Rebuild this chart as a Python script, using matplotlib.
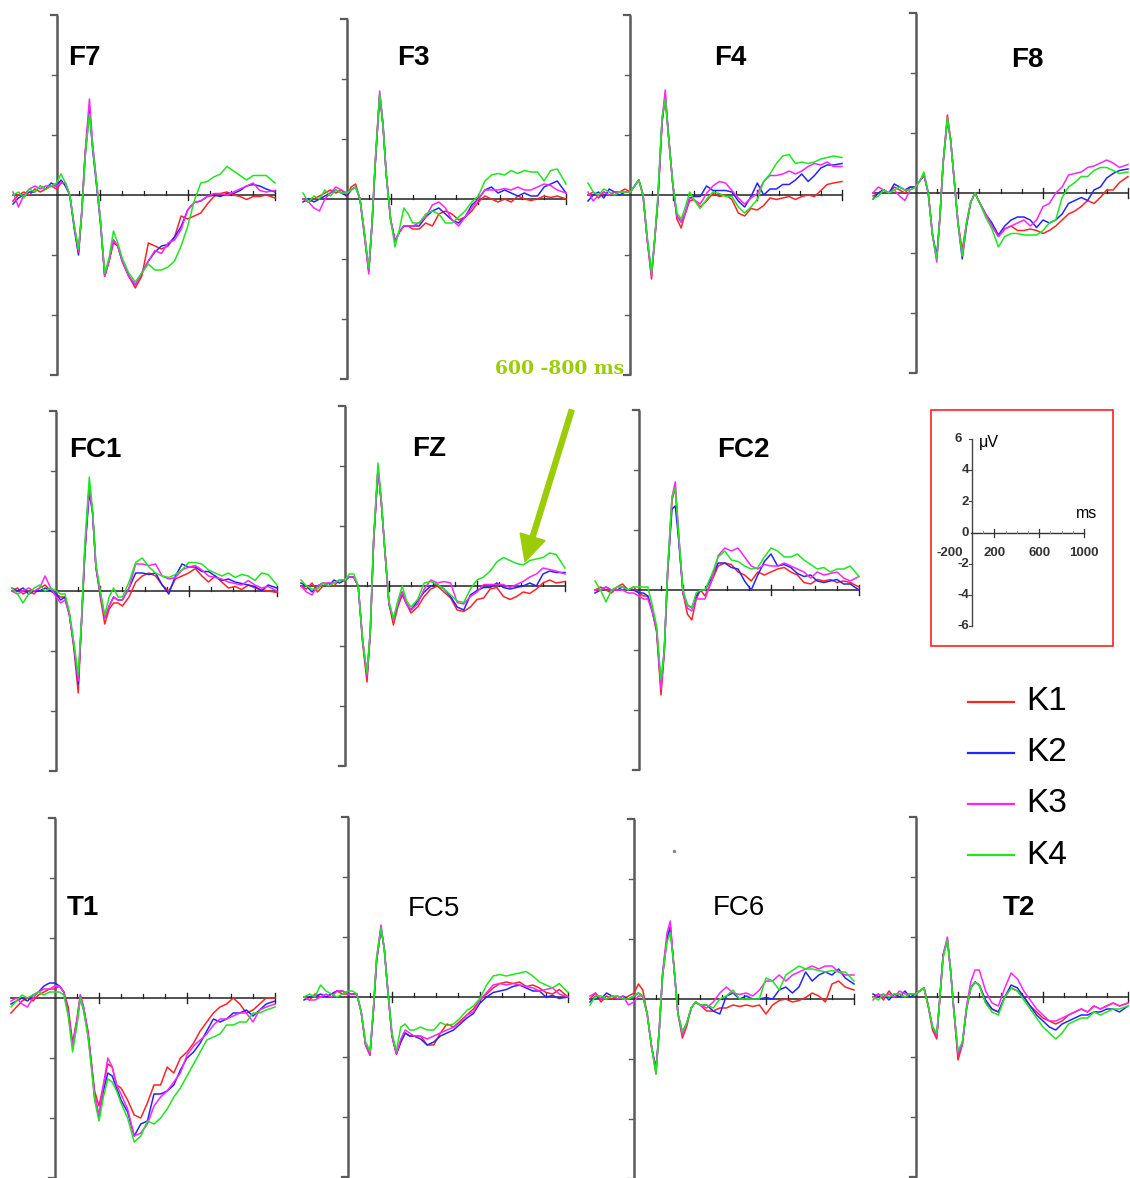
import matplotlib
matplotlib.use("Agg")
import matplotlib.pyplot as plt
from matplotlib.lines import Line2D
from matplotlib.patches import Rectangle, FancyArrow
from matplotlib.transforms import IdentityTransform

plt.rcParams['font.family'] = ['Liberation Sans', 'DejaVu Sans']

t_ms = [-200, -175, -150, -125, -100, -75, -50, -25,
        0, 20, 40, 60, 80, 100, 115, 130, 150, 165, 180, 200, 220, 240, 260, 280,
        300, 330, 360, 390, 420, 450, 480, 510, 540, 570, 600, 630, 660, 690,
        720, 750, 780, 810, 840, 870, 900, 930, 960, 1000]

conditions = ["K1", "K2", "K3", "K4"]
cond_colors = ["#ff2424", "#2424ff", "#ff24ff", "#1fe61f"]

# amplitudes in microvolts, one list per electrode and condition
F7_K1 = [-0.2, 0.0, 0.1, 0.0, 0.2, 0.1, 0.2, 0.3,
         0.2, 0.4, 0.4, 0.0, -1.0, -1.9, -0.6, 1.3, 2.9, 1.6, 0.6, -0.8, -2.7, -2.2, -1.6, -1.7,
         -2.2, -2.7, -3.1, -2.7, -1.6, -1.7, -1.8, -1.7, -1.4, -0.7, -0.8, -0.7, -0.6, -0.3, -0.05, 0.05, 0.1, 0.0, -0.05, -0.15, -0.05, -0.05, 0.0, -0.1]
F7_K2 = [-0.3, -0.1, 0.0, 0.1, 0.1, 0.3, 0.2, 0.4,
         0.3, 0.5, 0.3, 0.0, -1.1, -2.0, -0.6, 1.3, 2.8, 1.5, 0.5, -0.9, -2.7, -2.2, -1.5, -1.7,
         -2.2, -2.7, -3.0, -2.6, -2.2, -1.9, -1.7, -1.65, -1.4, -1.05, -0.5, -0.25, -0.2, -0.05, 0.0, -0.05, 0.05, 0.05, 0.15, 0.3, 0.35, 0.3, 0.2, 0.1]
F7_K3 = [0.1, -0.4, 0.0, 0.2, 0.3, 0.2, 0.3, 0.3,
         0.3, 0.4, 0.4, 0.0, -1.0, -1.9, -0.5, 1.4, 3.2, 1.7, 0.6, -0.8, -2.7, -2.2, -1.5, -1.7,
         -2.2, -2.7, -3.0, -2.6, -2.2, -1.85, -1.95, -1.6, -1.5, -1.15, -0.5, -0.25, -0.2, -0.05, 0.05, 0.05, 0.0, 0.1, 0.2, 0.3, 0.4, 0.15, 0.1, 0.15]
F7_K4 = [0.0, 0.1, -0.1, 0.2, 0.1, 0.3, 0.2, 0.3,
         0.4, 0.7, 0.4, 0.0, -1.0, -1.8, -0.6, 1.2, 2.7, 1.6, 0.6, -0.8, -2.6, -2.1, -1.2, -1.6,
         -2.1, -2.6, -2.9, -2.6, -2.3, -2.5, -2.5, -2.4, -2.2, -1.7, -1.05, -0.2, 0.4, 0.45, 0.6, 0.7, 0.95, 0.8, 0.65, 0.5, 0.65, 0.65, 0.65, 0.4]

F3_K1 = [0.0, -0.1, 0.0, 0.1, 0.2, 0.3, 0.2, 0.3,
         0.1, 0.4, 0.5, 0.0, -1.1, -2.4, -0.9, 1.2, 3.5, 2.4, 0.8, -0.7, -1.4, -1.1, -0.9, -0.9,
         -1.0, -1.0, -0.8, -0.9, -0.5, -0.4, -0.5, -0.7, -0.6, -0.4, -0.1, 0.1, 0.0, -0.1, 0.0, -0.1, 0.1, 0.0, -0.05, 0.0, 0.1, 0.05, 0.1, 0.0]
F3_K2 = [-0.1, 0.0, -0.1, 0.0, 0.1, 0.2, 0.3, 0.2,
         0.1, 0.3, 0.4, 0.0, -1.2, -2.4, -0.8, 1.2, 3.5, 2.5, 0.8, -0.7, -1.4, -1.1, -0.9, -0.9,
         -0.9, -0.9, -0.6, -0.4, -0.3, -0.5, -0.7, -0.8, -0.6, -0.2, 0.0, 0.3, 0.4, 0.2, 0.3, 0.2, 0.1, 0.2, 0.1, 0.1, 0.4, 0.5, 0.6, 0.2]
F3_K3 = [0.0, -0.1, -0.3, -0.4, 0.0, 0.2, 0.4, 0.3,
         0.2, 0.3, 0.4, 0.0, -1.2, -2.5, -0.8, 1.3, 3.6, 2.5, 0.8, -0.7, -1.4, -1.1, -0.9, -0.9,
         -0.9, -0.8, -0.6, -0.2, -0.1, -0.3, -0.7, -0.9, -0.6, -0.3, 0.0, 0.3, 0.3, 0.3, 0.35, 0.3, 0.4, 0.3, 0.3, 0.4, 0.5, 0.45, 0.3, 0.2]
F3_K4 = [0.2, -0.1, 0.1, 0.0, 0.3, 0.1, 0.3, 0.2,
         0.2, 0.3, 0.4, 0.0, -1.1, -2.3, -0.8, 1.3, 3.5, 2.5, 0.8, -0.7, -1.6, -1.0, -0.3, -0.5,
         -0.8, -0.8, -0.5, -0.4, -0.5, -0.8, -0.8, -0.6, -0.4, -0.1, 0.1, 0.6, 0.8, 0.85, 0.8, 0.95, 0.85, 0.95, 0.9, 0.9, 0.6, 0.95, 1.0, 0.5]

F4_K1 = [0.0, 0.1, -0.1, 0.1, 0.0, 0.1, 0.1, 0.2,
         0.1, 0.3, 0.5, 0.0, -1.5, -2.8, -1.5, -0.2, 2.4, 3.3, 2.0, 0.4, -0.8, -1.1, -0.6, -0.2,
         -0.15, -0.4, -0.2, 0.05, -0.05, 0.0, -0.15, -0.6, -0.7, -0.45, -0.5, -0.35, -0.1, -0.15, -0.1, -0.05, -0.15, -0.05, 0.0, -0.05, 0.15, 0.35, 0.4, 0.45]
F4_K2 = [-0.2, 0.0, 0.1, -0.1, 0.2, 0.1, 0.0, 0.1,
         0.1, 0.3, 0.5, 0.0, -1.5, -2.6, -1.5, -0.2, 2.5, 3.3, 2.0, 0.4, -0.7, -0.9, -0.6, -0.1,
         -0.05, -0.05, 0.3, 0.15, 0.15, 0.15, 0.1, -0.2, -0.4, -0.05, 0.4, 0.0, 0.2, 0.2, 0.35, 0.35, 0.5, 0.7, 0.45, 0.65, 0.9, 1.0, 1.0, 1.05]
F4_K3 = [0.1, -0.2, 0.0, 0.1, 0.0, 0.1, 0.1, 0.1,
         0.1, 0.3, 0.5, 0.0, -1.5, -2.7, -1.5, -0.2, 2.5, 3.5, 2.0, 0.4, -0.7, -0.9, -0.6, -0.1,
         -0.15, -0.3, 0.05, 0.3, 0.45, 0.4, 0.15, -0.1, -0.3, -0.1, 0.05, 0.45, 0.65, 0.65, 0.7, 0.8, 0.7, 0.8, 0.95, 1.05, 1.0, 1.1, 0.95, 0.95]
F4_K4 = [0.4, 0.1, 0.0, 0.2, 0.1, 0.0, 0.1, 0.1,
         0.1, 0.3, 0.5, 0.0, -1.4, -2.6, -1.5, 0.0, 2.6, 3.2, 2.0, 0.4, -0.6, -0.8, -0.4, 0.1,
         -0.15, -0.45, -0.15, 0.1, 0.05, -0.05, -0.05, -0.4, -0.6, -0.4, -0.15, 0.45, 0.7, 1.05, 1.3, 1.35, 1.05, 1.1, 1.05, 1.1, 1.2, 1.25, 1.3, 1.25]

F8_K1 = [-0.1, 0.0, 0.1, 0.0, 0.2, 0.1, 0.0, 0.2,
         0.2, 0.4, 0.6, 0.0, -1.4, -2.2, -0.8, 1.0, 2.6, 1.8, 0.6, -1.0, -1.9, -1.0, -0.3, 0.0,
         -0.3, -0.7, -1.1, -1.45, -1.2, -1.1, -1.25, -1.25, -1.2, -1.25, -1.35, -1.25, -1.1, -0.9, -0.7, -0.6, -0.45, -0.25, -0.35, -0.15, 0.1, 0.1, 0.35, 0.55]
F8_K2 = [-0.2, 0.0, 0.1, 0.0, 0.3, 0.2, 0.1, 0.2,
         0.2, 0.4, 0.6, 0.0, -1.4, -2.1, -0.8, 1.0, 2.4, 1.8, 0.6, -1.0, -2.2, -1.1, -0.3, 0.0,
         -0.3, -0.7, -1.0, -1.4, -1.1, -0.9, -0.8, -0.8, -0.9, -1.15, -0.9, -1.0, -0.9, -0.7, -0.35, -0.25, -0.15, -0.25, 0.1, 0.2, 0.5, 0.65, 0.75, 0.8]
F8_K3 = [0.0, 0.2, 0.1, 0.0, 0.1, -0.1, -0.25, 0.1,
         0.2, 0.4, 0.6, 0.0, -1.4, -2.3, -0.8, 1.0, 2.5, 1.8, 0.6, -1.0, -2.1, -1.0, -0.3, 0.0,
         -0.3, -0.7, -1.1, -1.45, -1.2, -1.1, -1.0, -0.9, -1.1, -0.9, -0.45, -0.35, 0.0, 0.2, 0.6, 0.65, 0.7, 0.85, 0.9, 1.0, 1.1, 1.0, 0.85, 0.95]
F8_K4 = [-0.2, -0.1, 0.1, 0.0, 0.1, 0.2, 0.1, 0.1,
         0.2, 0.4, 0.7, 0.0, -1.4, -2.2, -0.8, 1.0, 2.5, 1.8, 0.6, -1.0, -2.1, -1.0, -0.3, 0.0,
         -0.3, -0.8, -1.2, -1.8, -1.45, -1.35, -1.35, -1.4, -1.4, -1.4, -1.25, -1.0, -0.9, -0.15, 0.2, 0.35, 0.55, 0.55, 0.75, 0.85, 0.85, 0.75, 0.65, 0.7]

FC1_K1 = [0.0, 0.1, -0.1, 0.0, -0.1, 0.1, 0.2, 0.0,
          -0.1, -0.2, -0.2, -0.8, -1.9, -3.4, -1.0, 1.3, 3.5, 2.6, 0.8, -0.2, -1.1, -0.6, -0.4, -0.4,
          -0.5, -0.2, 0.3, 0.5, 0.6, 0.5, 0.2, 0.0, 0.4, 0.5, 0.6, 0.75, 0.5, 0.3, 0.5, 0.3, 0.1, 0.15, 0.05, 0.2, 0.1, 0.05, 0.0, -0.05]
FC1_K2 = [0.1, 0.0, 0.1, -0.1, 0.0, 0.0, 0.1, 0.0,
          -0.1, -0.3, -0.2, -0.8, -1.8, -3.1, -1.0, 1.3, 3.3, 2.6, 0.8, -0.1, -0.9, -0.5, -0.2, -0.3,
          -0.3, 0.1, 0.6, 0.6, 0.55, 0.6, 0.2, -0.1, 0.5, 0.9, 0.8, 0.8, 0.65, 0.65, 0.5, 0.35, 0.4, 0.3, 0.25, 0.2, 0.15, 0.0, 0.2, 0.1]
FC1_K3 = [0.0, -0.1, 0.0, 0.1, 0.0, 0.1, 0.5, 0.1,
          -0.2, -0.4, -0.3, -0.8, -1.8, -3.0, -1.0, 1.4, 3.5, 2.6, 0.8, -0.1, -0.9, -0.5, -0.2, -0.3,
          -0.3, 0.1, 0.9, 0.9, 0.85, 0.9, 0.5, 0.4, 0.45, 0.7, 0.8, 0.85, 0.7, 0.5, 0.45, 0.4, 0.3, 0.25, 0.2, 0.35, 0.2, 0.1, 0.15, 0.0]
FC1_K4 = [0.1, -0.1, -0.4, -0.1, 0.1, 0.2, 0.0, 0.1,
          0.0, -0.1, -0.1, -0.7, -1.7, -2.8, -0.9, 1.6, 3.8, 2.7, 0.9, 0.0, -0.8, -0.2, 0.1, -0.2,
          -0.2, 0.3, 0.95, 1.1, 0.8, 0.6, 0.5, 0.45, 0.55, 0.7, 0.95, 0.95, 0.9, 0.7, 0.6, 0.5, 0.6, 0.45, 0.55, 0.5, 0.35, 0.6, 0.55, 0.2]

FZ_K1 = [0.0, -0.1, 0.1, -0.2, 0.0, 0.1, 0.0, 0.2,
         0.2, 0.3, 0.3, 0.0, -1.9, -3.2, -1.6, 1.4, 3.9, 2.8, 1.3, -0.6, -1.3, -0.7, -0.3, -0.6,
         -0.9, -0.7, -0.35, -0.1, 0.0, -0.2, -0.4, -0.8, -0.85, -0.7, -0.45, -0.4, -0.1, -0.05, -0.35, -0.45, -0.35, -0.2, -0.25, -0.1, 0.1, 0.2, 0.1, 0.15]
FZ_K2 = [0.1, 0.0, -0.2, 0.0, 0.1, 0.0, 0.2, 0.1,
         0.2, 0.3, 0.3, 0.0, -1.8, -3.0, -1.5, 1.5, 3.9, 2.8, 1.3, -0.6, -1.1, -0.6, -0.2, -0.6,
         -0.8, -0.5, -0.2, 0.0, 0.05, -0.1, -0.35, -0.7, -0.8, -0.3, -0.15, -0.05, -0.05, 0.1, -0.05, -0.1, -0.05, 0.0, 0.1, 0.0, 0.4, 0.5, 0.45, 0.45]
FZ_K3 = [0.0, -0.2, -0.3, 0.0, 0.1, 0.1, 0.1, 0.2,
         0.2, 0.3, 0.3, 0.0, -1.8, -3.0, -1.5, 1.5, 3.9, 2.8, 1.3, -0.6, -1.1, -0.6, -0.2, -0.6,
         -0.8, -0.6, -0.1, 0.2, 0.1, 0.15, 0.1, -0.55, -0.6, -0.35, -0.2, 0.05, 0.05, 0.05, 0.05, -0.05, 0.05, 0.15, 0.3, 0.4, 0.6, 0.55, 0.5, 0.4]
FZ_K4 = [0.2, 0.0, -0.1, -0.1, 0.1, 0.0, 0.1, 0.2,
         0.2, 0.4, 0.4, 0.0, -1.8, -2.9, -1.5, 1.6, 4.1, 2.9, 1.3, -0.5, -1.1, -0.5, 0.0, -0.5,
         -0.7, -0.45, 0.1, 0.15, 0.05, -0.1, -0.3, -0.5, -0.55, -0.1, 0.2, 0.3, 0.5, 0.8, 0.95, 0.85, 0.75, 0.7, 0.85, 0.9, 0.95, 1.1, 1.05, 0.6]

FC2_K1 = [0.0, 0.1, 0.0, -0.1, 0.1, 0.2, 0.0, 0.1,
          -0.1, -0.2, -0.2, -0.7, -1.4, -3.5, -2.1, 0.5, 3.0, 3.4, 1.8, -0.1, -0.8, -1.0, -0.3, 0.0,
          -0.2, 0.3, 0.8, 0.9, 0.85, 0.6, 0.5, 0.3, 0.6, 0.5, 0.6, 0.7, 0.75, 0.6, 0.5, 0.25, 0.2, 0.35, 0.3, 0.35, 0.25, 0.3, 0.25, 0.1]
FC2_K2 = [-0.1, 0.0, 0.1, 0.0, 0.0, 0.1, 0.0, 0.0,
          -0.1, -0.1, -0.2, -0.7, -1.3, -3.2, -2.0, 0.6, 2.7, 2.8, 1.7, -0.1, -0.5, -0.6, -0.2, 0.0,
          0.0, 0.4, 0.9, 0.9, 0.75, 0.7, 0.3, 0.0, 0.5, 0.95, 1.2, 0.8, 0.85, 0.75, 0.55, 0.45, 0.5, 0.3, 0.25, 0.3, 0.35, 0.2, 0.2, 0.0]
FC2_K3 = [0.0, 0.0, 0.1, 0.0, 0.0, 0.0, -0.1, -0.1,
          -0.2, -0.3, -0.3, -0.7, -1.3, -3.3, -2.0, 0.6, 3.1, 3.6, 1.9, -0.1, -0.6, -0.7, -0.3, -0.3,
          -0.3, 0.3, 1.15, 1.4, 1.3, 1.4, 1.1, 0.8, 0.7, 0.85, 0.8, 0.8, 0.9, 0.8, 0.7, 0.6, 0.4, 0.6, 0.5, 0.55, 0.6, 0.4, 0.3, 0.45]
FC2_K4 = [0.3, 0.0, -0.4, 0.0, 0.1, 0.1, 0.0, 0.1,
          0.1, 0.1, 0.1, -0.5, -1.2, -3.0, -2.0, 0.7, 3.1, 3.4, 1.9, 0.0, -0.5, -0.6, -0.1, 0.0,
          0.0, 0.5, 1.1, 1.3, 1.0, 0.95, 0.8, 0.7, 0.75, 1.1, 1.4, 1.3, 1.1, 1.1, 1.2, 1.0, 0.85, 0.7, 0.75, 0.6, 0.7, 0.7, 0.8, 0.45]

T1_K1 = [-0.5, -0.3, -0.1, 0.0, -0.1, 0.1, 0.2, 0.3,
         0.3, 0.4, 0.2, -0.3, -1.5, -0.7, 0.1, -0.3, -1.1, -2.1, -3.1, -3.6, -2.9, -2.2, -2.3, -2.9,
         -3.0, -3.4, -3.9, -4.0, -3.5, -2.9, -2.9, -2.3, -2.5, -2.0, -1.8, -1.5, -1.1, -0.8, -0.5, -0.3, -0.2, 0.0, -0.2, -0.5, -0.4, -0.2, 0.0, 0.0]
T1_K2 = [-0.2, -0.1, 0.0, -0.1, 0.1, 0.2, 0.4, 0.5,
         0.5, 0.4, 0.2, -0.5, -1.6, -0.8, 0.0, -0.4, -1.2, -2.2, -3.3, -4.0, -3.1, -2.5, -2.6, -3.0,
         -3.4, -3.8, -4.6, -4.2, -4.1, -3.2, -3.2, -3.1, -2.9, -2.4, -2.0, -1.8, -1.5, -1.1, -0.7, -0.8, -0.7, -0.5, -0.5, -0.4, -0.6, -0.4, -0.2, -0.1]
T1_K3 = [-0.1, 0.0, -0.2, -0.3, 0.0, 0.2, 0.3, 0.3,
         0.4, 0.4, 0.2, -0.5, -1.6, -0.7, 0.1, -0.3, -1.2, -2.2, -3.2, -3.9, -2.9, -2.0, -2.3, -2.9,
         -3.2, -3.7, -4.6, -4.5, -4.2, -3.6, -3.3, -3.1, -2.8, -2.5, -1.9, -1.6, -1.4, -1.2, -0.9, -0.7, -0.7, -0.6, -0.5, -0.5, -0.8, -0.4, -0.3, -0.2]
T1_K4 = [-0.3, -0.1, 0.1, 0.0, 0.1, 0.2, 0.1, 0.2,
         0.2, 0.2, 0.1, -0.6, -1.8, -0.9, 0.0, -0.4, -1.3, -2.3, -3.4, -4.1, -3.3, -2.7, -2.8, -3.1,
         -3.5, -4.0, -4.8, -4.6, -4.1, -4.2, -4.0, -3.7, -3.3, -3.0, -2.6, -2.2, -1.8, -1.4, -1.3, -1.2, -0.9, -0.9, -0.8, -0.8, -0.5, -0.5, -0.4, -0.3]

FC5_K1 = [0.0, -0.1, 0.1, 0.0, 0.0, 0.1, 0.2, 0.1,
          0.1, 0.1, 0.1, -0.5, -1.6, -1.95, -0.5, 1.2, 2.3, 1.6, 0.3, -1.3, -1.9, -1.5, -1.2, -1.3,
          -1.3, -1.3, -1.6, -1.6, -1.2, -0.9, -1.0, -0.8, -0.6, -0.4, -0.1, 0.1, 0.3, 0.45, 0.5, 0.45, 0.5, 0.35, 0.4, 0.3, 0.15, 0.1, 0.25, 0.0]
FC5_K2 = [-0.1, 0.0, 0.0, 0.1, 0.0, 0.1, 0.2, 0.2,
          0.1, 0.1, 0.1, -0.5, -1.6, -1.9, -0.5, 1.2, 2.3, 1.6, 0.3, -1.3, -1.9, -1.5, -1.2, -1.3,
          -1.3, -1.4, -1.6, -1.5, -1.3, -1.2, -1.1, -0.9, -0.7, -0.55, -0.2, 0.0, 0.15, 0.2, 0.25, 0.35, 0.4, 0.3, 0.2, 0.2, 0.0, 0.05, -0.05, 0.0]
FC5_K3 = [0.0, -0.1, -0.1, 0.0, 0.1, 0.0, 0.2, 0.2,
          0.1, 0.1, 0.1, -0.5, -1.6, -1.9, -0.5, 1.3, 2.4, 1.6, 0.3, -1.3, -1.9, -1.4, -1.1, -1.2,
          -1.3, -1.3, -1.4, -1.3, -1.2, -1.1, -1.0, -0.85, -0.6, -0.5, -0.1, 0.15, 0.4, 0.45, 0.4, 0.45, 0.4, 0.35, 0.3, 0.2, 0.25, 0.3, 0.1, 0.0]
FC5_K4 = [0.0, 0.1, 0.0, 0.4, 0.2, 0.1, 0.0, 0.1,
          0.2, 0.2, 0.1, -0.5, -1.5, -1.8, -0.4, 1.3, 2.3, 1.6, 0.3, -1.2, -1.8, -1.0, -0.9, -1.1,
          -1.1, -1.0, -1.1, -1.1, -0.85, -0.95, -0.9, -0.7, -0.45, -0.3, -0.05, 0.4, 0.7, 0.75, 0.7, 0.75, 0.8, 0.85, 0.7, 0.5, 0.4, 0.3, 0.45, 0.15]

FC6_K1 = [0.0, 0.2, -0.1, 0.1, 0.0, 0.1, 0.0, 0.1,
          0.2, 0.5, 0.3, -0.5, -1.6, -2.5, -1.0, 0.8, 2.0, 2.4, 1.2, -0.5, -1.3, -0.9, -0.3, -0.1,
          -0.2, -0.4, -0.4, -0.3, -0.3, -0.2, -0.25, -0.2, -0.25, -0.2, -0.5, -0.2, -0.05, 0.0, -0.1, -0.05, 0.05, 0.2, 0.1, -0.1, 0.5, 0.6, 0.4, 0.3]
FC6_K2 = [-0.1, 0.1, 0.0, 0.2, 0.1, 0.0, 0.1, 0.0,
          0.1, 0.2, 0.1, -0.5, -1.6, -2.3, -1.0, 0.8, 2.0, 2.4, 1.2, -0.5, -1.1, -0.8, -0.3, -0.1,
          -0.2, -0.2, -0.4, -0.5, 0.1, 0.2, 0.0, 0.1, 0.0, 0.0, 0.05, 0.0, 0.3, 0.4, 0.2, 0.4, 0.9, 0.6, 0.8, 0.9, 0.8, 1.0, 0.7, 0.5]
FC6_K3 = [0.1, 0.2, 0.0, 0.0, 0.1, 0.0, 0.1, -0.2,
          -0.1, 0.1, 0.1, -0.5, -1.6, -2.4, -1.0, 0.9, 2.2, 2.6, 1.2, -0.5, -1.2, -0.8, -0.3, -0.1,
          -0.2, -0.3, -0.1, 0.2, 0.4, 0.2, 0.15, 0.2, 0.1, 0.3, 0.6, 0.6, 0.8, 0.6, 0.8, 0.9, 1.0, 1.1, 1.0, 1.1, 1.1, 0.9, 0.8, 0.8]
FC6_K4 = [-0.2, 0.1, 0.1, 0.0, 0.1, 0.1, 0.0, 0.0,
          0.1, 0.2, 0.1, -0.5, -1.6, -2.5, -1.0, 0.8, 1.9, 2.2, 1.2, -0.5, -1.1, -0.8, -0.3, -0.1,
          -0.2, -0.2, -0.3, 0.0, 0.1, 0.3, 0.0, 0.0, 0.0, 0.0, 0.7, 0.6, 0.3, 0.8, 0.95, 1.1, 1.0, 1.0, 0.95, 0.9, 0.95, 0.9, 0.9, 0.6]

T2_K1 = [0.0, 0.1, -0.1, 0.2, 0.0, 0.1, 0.0, 0.1,
         0.1, 0.2, 0.3, -0.3, -1.1, -1.4, 0.0, 1.4, 1.9, 0.9, -0.4, -2.1, -1.6, -0.4, 0.3, 0.5,
         0.4, -0.2, -0.4, -0.5, 0.0, 0.3, 0.2, 0.0, -0.3, -0.5, -0.7, -0.8, -0.9, -0.8, -0.6, -0.5, -0.4, -0.5, -0.3, -0.4, -0.3, -0.2, -0.3, -0.2]
T2_K2 = [0.1, 0.0, 0.1, -0.1, 0.1, 0.0, 0.2, 0.0,
         0.1, 0.2, 0.3, -0.3, -1.0, -1.3, 0.0, 1.4, 1.9, 0.9, -0.4, -1.9, -1.6, -0.4, 0.3, 0.5,
         0.4, -0.1, -0.4, -0.5, 0.0, 0.4, 0.3, 0.0, -0.3, -0.6, -0.8, -1.0, -1.1, -0.9, -0.8, -0.7, -0.6, -0.6, -0.5, -0.5, -0.4, -0.4, -0.5, -0.3]
T2_K3 = [-0.1, 0.1, 0.0, 0.1, 0.0, 0.2, 0.1, 0.1,
         0.1, 0.2, 0.3, -0.3, -1.0, -1.3, 0.0, 1.4, 2.0, 0.9, -0.4, -1.9, -1.6, -0.3, 0.5, 0.9,
         0.9, 0.2, -0.2, -0.3, 0.3, 0.8, 0.6, 0.2, -0.1, -0.4, -0.6, -0.8, -0.8, -0.7, -0.6, -0.5, -0.4, -0.5, -0.3, -0.4, -0.3, -0.2, -0.3, -0.2]
T2_K4 = [0.0, -0.1, 0.1, 0.0, 0.1, 0.1, 0.0, 0.1,
         0.1, 0.2, 0.3, -0.3, -1.0, -1.2, 0.0, 1.3, 1.9, 0.9, -0.4, -1.8, -1.5, -0.4, 0.3, 0.5,
         0.4, -0.2, -0.5, -0.6, 0.0, 0.3, 0.2, -0.1, -0.4, -0.7, -1.0, -1.2, -1.4, -1.2, -0.9, -0.8, -0.7, -0.7, -0.5, -0.6, -0.5, -0.4, -0.4, -0.3]

electrodes = ["F7", "F3", "F4", "F8", "FC1", "FZ", "FC2", "T1", "FC5", "FC6", "T2"]
traces = {
    "F7": [F7_K1, F7_K2, F7_K3, F7_K4], "F3": [F3_K1, F3_K2, F3_K3, F3_K4],
    "F4": [F4_K1, F4_K2, F4_K3, F4_K4], "F8": [F8_K1, F8_K2, F8_K3, F8_K4],
    "FC1": [FC1_K1, FC1_K2, FC1_K3, FC1_K4], "FZ": [FZ_K1, FZ_K2, FZ_K3, FZ_K4],
    "FC2": [FC2_K1, FC2_K2, FC2_K3, FC2_K4], "T1": [T1_K1, T1_K2, T1_K3, T1_K4],
    "FC5": [FC5_K1, FC5_K2, FC5_K3, FC5_K4], "FC6": [FC6_K1, FC6_K2, FC6_K3, FC6_K4],
    "T2": [T2_K1, T2_K2, T2_K3, T2_K4],
}

# layout in pixels: x of -200 ms, x of 1000 ms, y of the 0 uV line
W, H = 1130, 1178
boxes = {
    "F7": (13, 275, 195), "F3": (303, 566, 199), "F4": (588, 842, 195), "F8": (873, 1128, 193),
    "FC1": (12, 277, 591), "FZ": (301, 565, 586), "FC2": (595, 859, 590),
    "T1": (11, 275, 998), "FC5": (304, 568, 997), "FC6": (590, 854, 999), "T2": (873, 1128, 997),
}
label_pos = {
    "F7": (68, 58), "F3": (397, 58), "F4": (714, 58), "F8": (1011, 60),
    "FC1": (69, 450), "FZ": (412, 449), "FC2": (717, 450),
    "T1": (67, 908), "FC5": (408, 909), "FC6": (713, 908), "T2": (1003, 908),
}
UV_PX = 30.0  # pixels per microvolt

fig = plt.figure(figsize=(W / 100, H / 100), dpi=100)
fig.patch.set_facecolor("white")


def fx(x):
    return x / W


def fy(y):
    return 1 - y / H


for name in electrodes:
    x0, x1, yz = boxes[name]
    ax = fig.add_axes([fx(x0), fy(yz + 6 * UV_PX), (x1 - x0) / W, 12 * UV_PX / H])
    ax.set_xlim(-200, 1000)
    ax.set_ylim(-6, 6)
    ax.axis("off")
    ms = 1200.0 / (x1 - x0)  # ms per pixel
    uv = 1.0 / UV_PX
    # bracket-like amplitude axis at 0 ms
    ax.plot([0, 0], [-6, 6], color="#5a5a5a", lw=1.8, clip_on=False, solid_capstyle="butt")
    for yv in (-6, 6):
        ax.plot([0, -6 * ms], [yv, yv], color="#5a5a5a", lw=1.6, clip_on=False)
    for yv in (-4, -2, 2, 4):
        ax.plot([0, -5 * ms], [yv, yv], color="#5a5a5a", lw=1.0, clip_on=False)
    # time axis
    ax.plot([-200, 1000], [0, 0], color="#222222", lw=1.1, clip_on=False)
    for tv in (100, 300, 400, 500, 700, 800, 900):
        ax.plot([tv, tv], [0, 4 * uv], color="#222222", lw=0.9, clip_on=False)
    for tv in (200, 600, 1000):
        ax.plot([tv, tv], [-5 * uv, 5 * uv], color="#222222", lw=1.0, clip_on=False)
    for vals, col in zip(traces[name], cond_colors):
        ax.plot(t_ms, vals, color=col, lw=1.1, clip_on=False)
    lx, ly = label_pos[name]
    weight = "normal" if name in ("FC5", "FC6") else "bold"
    fig.text(fx(lx), fy(ly), name, fontsize=20, fontweight=weight, ha="left", va="center")

# scale box
fig.add_artist(Rectangle((fx(931), fy(646)), (1113 - 931) / W, (646 - 410) / H,
                         fill=False, edgecolor="#ff2020", lw=1.2))
sx0, sx1, sy_top, sy_bot = 949.6, 1084.0, 439.0, 626.4
sax = fig.add_axes([fx(sx0), fy(sy_bot), (sx1 - sx0) / W, (sy_bot - sy_top) / H])
sax.set_xlim(-200, 1000)
sax.set_ylim(-6, 6)
sax.axis("off")
s_ms = 1200.0 / (sx1 - sx0)
s_uv = 12.0 / (sy_bot - sy_top)
sax.plot([0, 0], [-6, 6], color="#444444", lw=1.0, clip_on=False)
for yv in (-6, -4, -2, 2, 4, 6):
    sax.plot([0, -3 * s_ms], [yv, yv], color="#444444", lw=0.8, clip_on=False)
sax.plot([-10, 1000], [0, 0], color="#333333", lw=1.0, clip_on=False)
for tv in (100, 300, 400, 500, 700, 800, 900):
    sax.plot([tv, tv], [0, 2 * s_uv], color="#888888", lw=0.7, clip_on=False)
for tv in (200, 600, 1000):
    sax.plot([tv, tv], [-4 * s_uv, 4 * s_uv], color="#333333", lw=0.9, clip_on=False)

scale_y_ticks = [6, 4, 2, 0, -2, -4, -6]
scale_x_ticks = [-200, 200, 600, 1000]
for v in scale_y_ticks:
    ypx = 532.7 - v * 15.6
    xr = 962 if v == 6 else 969
    fig.text(fx(xr), fy(ypx), str(v), fontsize=9.5, fontweight="bold", color="#333333",
             ha="right", va="center")
for v in scale_x_ticks:
    xpx = 972 + v * 0.112
    fig.text(fx(xpx), fy(553), str(v), fontsize=9.5,
             fontweight="bold", color="#333333", ha="center", va="center")
fig.text(fx(979), fy(442), "μV", fontsize=11.5, ha="left", va="center")
fig.text(fx(1076), fy(513), "ms", fontsize=11.5, ha="left", va="center")

# legend
legend_y = [701.7, 752.7, 804, 855]
for cond, col, ly in zip(conditions, cond_colors, legend_y):
    fig.add_artist(Line2D([fx(968), fx(1014)], [fy(ly), fy(ly)], color=col, lw=1.6))
    fig.text(fx(1026), fy(ly), cond, fontsize=24, ha="left", va="center")

# 600-800 ms annotation with arrow
fig.text(fx(495), fy(369), "600 -800 ms", fontsize=13.5, fontweight="bold",
         family="DejaVu Serif", color="#9acd05", ha="left", va="center")
arrow = FancyArrow(571.7, H - 410, -46.7, -151.7, width=5, head_width=26, head_length=26,
                   length_includes_head=True, color="#9acd05", transform=IdentityTransform())
fig.add_artist(arrow)

# small stray dot above FC6
fig.add_artist(Line2D([fx(674)], [fy(851)], marker="o", markersize=1.5, color="#888888", lw=0))

fig.savefig("out.png", dpi=100)
